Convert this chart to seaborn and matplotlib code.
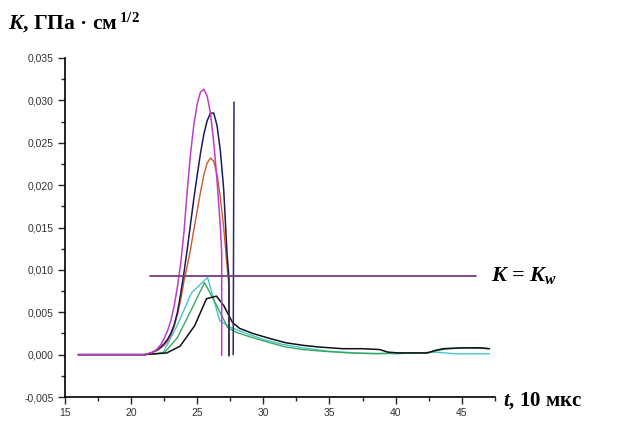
import matplotlib
matplotlib.use("Agg")
import matplotlib.pyplot as plt
import seaborn as sns
from matplotlib.ticker import FuncFormatter, MultipleLocator

# main peaks, read every 0.25, each ending with a drop at its break point
mag_t = [16, 21.0, 21.25, 21.5, 21.75, 22.0, 22.25, 22.5, 22.75, 23.0, 23.25, 23.5, 23.75,
         24.0, 24.25, 24.5, 24.75, 25.0, 25.25, 25.5, 25.75, 26.0, 26.25, 26.5, 26.75, 26.85, 26.85]
mag_k = [0, 0, 0.0001, 0.0002, 0.0004, 0.0007, 0.0012, 0.0019, 0.0028, 0.0040, 0.0057, 0.0080, 0.0108,
         0.0145, 0.0195, 0.0238, 0.0272, 0.0296, 0.0310, 0.0313, 0.0305, 0.0285, 0.0250, 0.0205, 0.0150, 0.0120, -0.0001]

navy_t = [16, 21.0, 21.25, 21.5, 21.75, 22.0, 22.25, 22.5, 22.75, 23.0, 23.25, 23.5, 23.75, 24.0,
          24.25, 24.5, 24.75, 25.0, 25.25, 25.5, 25.75, 26.0, 26.25, 26.5, 26.75, 27.0, 27.25, 27.4, 27.4]
navy_k = [0, 0, 0.0001, 0.0002, 0.0004, 0.0006, 0.0009, 0.0013, 0.0018, 0.0025, 0.0035, 0.0050, 0.0072, 0.0097,
          0.0125, 0.0155, 0.0185, 0.0212, 0.0238, 0.0260, 0.0276, 0.0285, 0.0285, 0.0270, 0.0240, 0.0195, 0.0120, 0.0090, -0.0001]

red_t = [21.0, 21.5, 22.0, 22.5, 22.75, 23.0, 23.25, 23.5, 23.75, 24.0, 24.25, 24.5, 24.75, 25.0,
         25.25, 25.5, 25.75, 26.0, 26.25, 26.5, 26.75, 27.0, 27.25, 27.4, 27.4]
red_k = [0, 0.0002, 0.0005, 0.0011, 0.0016, 0.0023, 0.0033, 0.0047, 0.0065, 0.0087, 0.0105, 0.0125, 0.0148, 0.0170,
         0.0192, 0.0212, 0.0226, 0.0232, 0.0228, 0.0212, 0.0185, 0.0150, 0.0105, 0.0080, -0.0002]

spike_t = [27.72, 27.78]
spike_k = [0, 0.0298]

black_t = [16, 21, 22.7, 23.7, 24.8, 25.7, 26.45, 27.0, 27.4, 27.66, 28.2, 29.2, 30.5, 31.7, 33.0, 34.2,
           36.0, 37.5, 38.8, 39.4, 40.2, 42.4, 43.0, 43.6, 45.0, 46.5, 47.1]
black_k = [0, 0, 0.0002, 0.0010, 0.0034, 0.0066, 0.0069, 0.0058, 0.0046, 0.0038, 0.0031, 0.0025, 0.0019, 0.0014,
           0.0011, 0.0009, 0.0007, 0.0007, 0.0006, 0.0003, 0.0002, 0.0002, 0.0005, 0.0007, 0.0008, 0.0008, 0.0007]

green_t = [21, 22.5, 23.5, 24.65, 25.55, 26.4, 27.3, 28.0, 29.2, 30.5, 31.7, 33.0, 34.5, 36.5,
           38.5, 40.0, 42.4, 43.2, 44.0, 45.5, 47.1]
green_k = [0, 0.0002, 0.0020, 0.0056, 0.0085, 0.0060, 0.0032, 0.0026, 0.0020, 0.0014, 0.0009, 0.0006, 0.0004,
           0.0002, 0.0001, 0.0002, 0.0002, 0.0005, 0.0007, 0.0008, 0.0007]

cyan_t = [21, 22.4, 23.5, 24.57, 25.78, 26.7, 27.4, 28.7, 30.0, 31.5, 33.0, 35.0, 37.0, 40.0, 43.0, 44.5, 47.1]
cyan_k = [0, 0.0002, 0.0035, 0.0073, 0.0091, 0.0040, 0.0033, 0.0025, 0.0018, 0.0012, 0.0008, 0.0004,
          0.0002, 0.0001, 0.0003, 0.0001, 0.0001]

kw_t = [21.4, 46.1]
kw_k = [0.0093, 0.0093]

sns.set_style("ticks")
plt.rcParams["font.family"] = ["Liberation Sans", "DejaVu Sans"]
plt.rcParams["mathtext.fontset"] = "custom"
plt.rcParams["mathtext.rm"] = "Liberation Serif:bold"
plt.rcParams["mathtext.it"] = "Liberation Serif:italic:bold"

fig = plt.figure(figsize=(6.21, 4.22), dpi=100)
ax = fig.add_axes([0.1047, 0.0592, 0.692, 0.8034])

common = dict(estimator=None, sort=False, ax=ax, legend=False)
sns.lineplot(x=cyan_t, y=cyan_k, color="#45c4d4", lw=1.0, **common)
sns.lineplot(x=green_t, y=green_k, color="#3aa85a", lw=1.0, **common)
sns.lineplot(x=black_t, y=black_k, color="#111111", lw=1.1, **common)
sns.lineplot(x=red_t, y=red_k, color="#d0582a", lw=1.0, **common)
sns.lineplot(x=navy_t, y=navy_k, color="#1c1c5a", lw=1.1, **common)
sns.lineplot(x=mag_t, y=mag_k, color="#c23cc8", lw=1.1, **common)
sns.lineplot(x=spike_t, y=spike_k, color="#2a2a6e", lw=1.1, **common)
sns.lineplot(x=kw_t, y=kw_k, color="#7a3c7c", lw=1.3, **common)

ax.set_xlim(15, 47.5)
ax.set_ylim(-0.005, 0.035)
ax.xaxis.set_major_locator(MultipleLocator(5))
ax.xaxis.set_minor_locator(MultipleLocator(2.5))
ax.yaxis.set_major_locator(MultipleLocator(0.005))
ax.yaxis.set_minor_locator(MultipleLocator(0.0025))
ax.yaxis.set_major_formatter(FuncFormatter(lambda v, p: f"{v:.3f}".replace(".", ",").replace("-0,000", "0,000")))
ax.xaxis.set_major_formatter(FuncFormatter(lambda v, p: f"{v:.0f}"))
ax.tick_params(which="major", length=5, width=1, labelsize=7.5, labelcolor="#333333", pad=3)
ax.tick_params(which="minor", length=3, width=1)
ax.set_xlabel("")
ax.set_ylabel("")
sns.despine(ax=ax)
for s in ["left", "bottom"]:
    ax.spines[s].set_linewidth(1.2)
    ax.spines[s].set_color("black")

serif = dict(family="Liberation Serif", fontweight="bold", color="black")
fig.text(0.013, 0.93, r"$K$, ГПа · см$\,{}^{1/2}$", fontsize=15.5, **serif)
fig.text(0.81, 0.038, "$t$, 10 мкс", fontsize=15, **serif)
ax.text(47.2, 0.0093, "$K$ = $K_w$", fontsize=16, va="center", clip_on=False, **serif)

fig.savefig("out.png", dpi=100)
